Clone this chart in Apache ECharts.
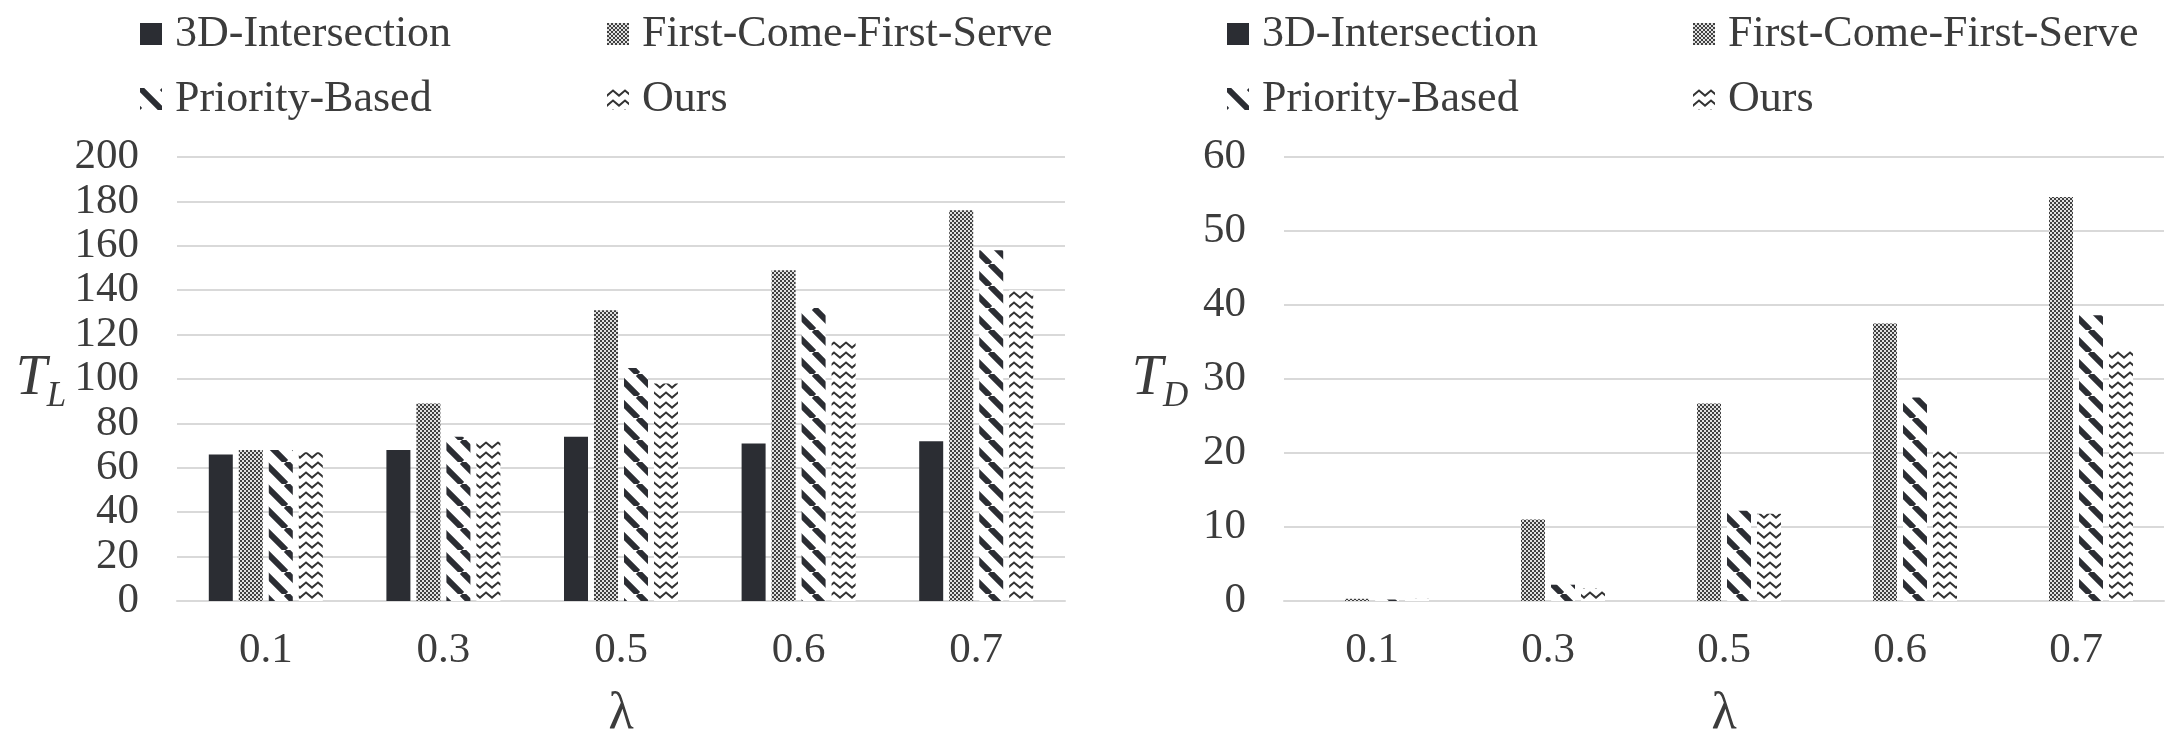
<!DOCTYPE html>
<html>
<head>
<meta charset="utf-8">
<script src="https://cdn.jsdelivr.net/npm/echarts@6/dist/echarts.min.js"></script>
<style>
  html, body { margin: 0; padding: 0; background: #ffffff; }
  #chart { width: 2167px; height: 742px; }
</style>
</head>
<body>
<div id="chart"></div>
<script>
// Arrival rate categories and series names
const lambdaLabels = ['0.1', '0.3', '0.5', '0.6', '0.7'];
const seriesNames = ['3D-Intersection', 'First-Come-First-Serve', 'Priority-Based', 'Ours'];

// T_L values per method
const tlIntersection3D = [66, 68, 74, 71, 72];
const tlFirstCome = [68, 89, 131, 149, 176];
const tlPriority = [68, 74, 105, 132, 158];
const tlOurs = [67, 72, 98, 117, 140];

// T_D values per method
const tdIntersection3D = [0, 0, 0, 0, 0];
const tdFirstCome = [0.3, 11, 26.7, 37.5, 54.6];
const tdPriority = [0.2, 2.2, 12.2, 27.5, 38.6];
const tdOurs = [0.3, 1.7, 11.8, 20.5, 34];

// Axis ranges
const tlAxis = { min: 0, max: 200, interval: 20 };
const tdAxis = { min: 0, max: 60, interval: 10 };

const FONT = "'Liberation Serif', 'Times New Roman', serif";
const TEXT = '#3c3c3c';
const DARK = '#2b2d33';
const GRID_LINE = '#d9d9d9';

// ---- fill patterns ----
function makeCanvas(w, h) {
  const c = document.createElement('canvas');
  c.width = w; c.height = h;
  const g = c.getContext('2d');
  g.fillStyle = '#ffffff';
  g.fillRect(0, 0, w, h);
  return [c, g];
}
function checkerPattern() {
  const [c, g] = makeCanvas(4, 4);
  g.fillStyle = '#e0e0e0';
  g.fillRect(0, 0, 4, 4);
  g.fillStyle = '#404040';
  g.fillRect(0, 0, 2, 2);
  g.fillRect(2, 2, 2, 2);
  return c;
}
function stripePattern() {
  const P = 22;
  const [c, g] = makeCanvas(P, P);
  g.strokeStyle = DARK;
  g.lineWidth = 6;
  g.beginPath();
  for (const o of [-P, 0, P]) {
    g.moveTo(o, 0);
    g.lineTo(o + P, P);
  }
  g.stroke();
  return c;
}
function zigzagPattern() {
  const W = 12, H = 10;
  const [c, g] = makeCanvas(W, H);
  g.strokeStyle = '#333333';
  g.lineWidth = 2;
  g.lineJoin = 'miter';
  g.beginPath();
  g.moveTo(-1, 8.5);
  g.lineTo(6, 2.5);
  g.lineTo(13, 8.5);
  g.stroke();
  return c;
}

const fills = [
  DARK,
  { image: checkerPattern(), repeat: 'repeat' },
  { image: stripePattern(), repeat: 'repeat' },
  { image: zigzagPattern(), repeat: 'repeat' }
];

const tlSeries = [tlIntersection3D, tlFirstCome, tlPriority, tlOurs];
const tdSeries = [tdIntersection3D, tdFirstCome, tdPriority, tdOurs];

function barSeries(values, idx, gridIdx) {
  return {
    type: 'bar',
    name: seriesNames[idx],
    xAxisIndex: gridIdx,
    yAxisIndex: gridIdx,
    data: values,
    barWidth: 24,
    barGap: '25%',
    itemStyle: { color: fills[idx] },
    emphasis: { disabled: true }
  };
}

function legendItem(name, left, top) {
  return {
    data: [name],
    left: left,
    top: top,
    padding: 0,
    icon: 'rect',
    itemWidth: 22,
    itemHeight: 22,
    selectedMode: false,
    textStyle: { fontFamily: FONT, fontSize: 44, color: TEXT, padding: [0, 0, 0, 8] }
  };
}

function xAxisFor(gridIdx) {
  return {
    type: 'category',
    gridIndex: gridIdx,
    data: lambdaLabels,
    axisLine: { show: true, lineStyle: { color: GRID_LINE, width: 2 } },
    axisTick: { show: false },
    axisLabel: { fontFamily: FONT, fontSize: 43, color: TEXT, margin: 28 },
    name: 'λ',
    nameLocation: 'middle',
    nameGap: 113,
    nameTextStyle: { fontFamily: FONT, fontSize: 52, color: TEXT, verticalAlign: 'middle' }
  };
}

function yAxisFor(gridIdx, range, sub, gap) {
  return {
    type: 'value',
    gridIndex: gridIdx,
    min: range.min,
    max: range.max,
    interval: range.interval,
    axisLine: { show: false },
    axisTick: { show: false },
    splitLine: { show: true, lineStyle: { color: GRID_LINE, width: 2 } },
    axisLabel: { fontFamily: FONT, fontSize: 43, color: TEXT, margin: 38 },
    name: '{t|T}{s|' + sub + '}',
    nameLocation: 'middle',
    nameRotate: 0,
    nameGap: gap,
    nameTextStyle: {
      align: 'center',
      verticalAlign: 'middle',
      rich: {
        t: { fontFamily: FONT, fontStyle: 'italic', fontSize: 56, lineHeight: 60, color: TEXT },
        s: { fontFamily: FONT, fontStyle: 'italic', fontSize: 35, lineHeight: 35, padding: [35, 0, 0, 0], color: TEXT }
      }
    }
  };
}

const chart = echarts.init(document.getElementById('chart'), null, { renderer: 'canvas' });

const option = {
  backgroundColor: '#ffffff',
  animation: false,
  legend: [
    legendItem(seriesNames[0], 140, 12),
    legendItem(seriesNames[1], 607, 12),
    legendItem(seriesNames[2], 140, 77),
    legendItem(seriesNames[3], 607, 77),
    legendItem(seriesNames[0], 1227, 12),
    legendItem(seriesNames[1], 1693, 12),
    legendItem(seriesNames[2], 1227, 77),
    legendItem(seriesNames[3], 1693, 77)
  ],
  grid: [
    { left: 177, top: 157, width: 888, height: 444, containLabel: false, outerBoundsMode: 'none' },
    { left: 1284, top: 157, width: 880, height: 444, containLabel: false, outerBoundsMode: 'none' }
  ],
  xAxis: [xAxisFor(0), xAxisFor(1)],
  yAxis: [yAxisFor(0, tlAxis, 'L', 136), yAxisFor(1, tdAxis, 'D', 124)],
  series: [
    ...tlSeries.map((v, i) => barSeries(v, i, 0)),
    ...tdSeries.map((v, i) => barSeries(v, i, 1))
  ]
};

chart.setOption(option);
</script>
</body>
</html>
